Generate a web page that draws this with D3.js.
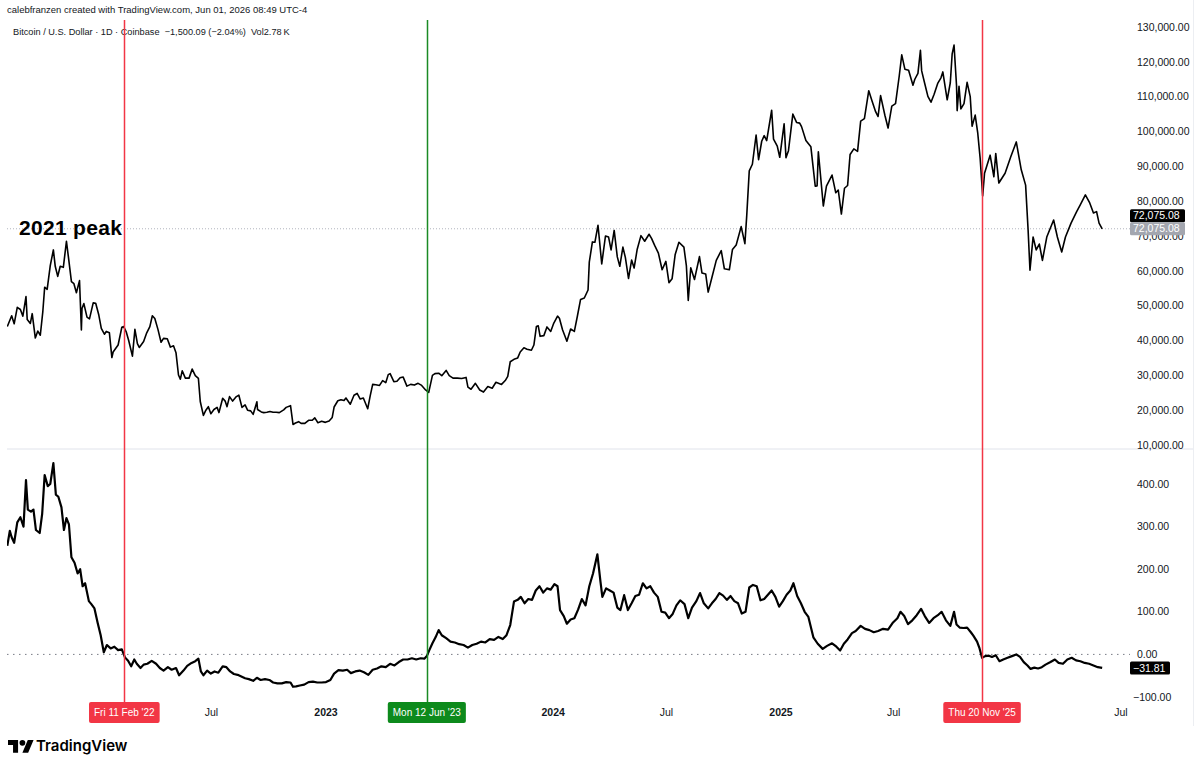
<!DOCTYPE html>
<html>
<head>
<meta charset="utf-8">
<script src="https://cdn.jsdelivr.net/npm/d3@7"></script>
<style>
  body { margin: 0; background: #fff; }
  svg { display: block; font-family: "Liberation Sans", Arial, sans-serif; }
</style>
</head>
<body>
<svg id="chart" width="1200" height="765"></svg>
<script>
//Data
// BTCUSD daily close, thousand USD (~weekly + spikes)
const btcPrice = [
  ["2021-08-07",44.0],["2021-08-14",47.1],["2021-08-18",44.8],["2021-08-23",49.5],["2021-08-28",48.9],
  ["2021-09-01",47.0],["2021-09-06",52.6],["2021-09-08",46.0],["2021-09-13",44.9],["2021-09-16",47.7],
  ["2021-09-21",40.7],["2021-09-25",42.7],["2021-09-29",41.5],["2021-10-03",48.2],["2021-10-06",55.3],
  ["2021-10-10",54.7],["2021-10-15",61.5],["2021-10-20",66.0],["2021-10-23",61.3],["2021-10-27",58.4],
  ["2021-10-31",61.3],["2021-11-05",61.0],["2021-11-10",68.5],["2021-11-13",64.2],["2021-11-18",56.9],
  ["2021-11-22",56.3],["2021-11-26",53.7],["2021-12-01",57.2],["2021-12-04",43.0],["2021-12-05",49.2],
  ["2021-12-08",50.6],["2021-12-13",46.7],["2021-12-17",46.2],["2021-12-23",50.8],["2021-12-27",50.7],
  ["2022-01-01",47.3],["2022-01-05",43.5],["2022-01-10",41.8],["2022-01-13",42.6],["2022-01-18",42.2],
  ["2022-01-22",35.1],["2022-01-24",36.7],["2022-01-28",37.7],["2022-02-01",38.7],["2022-02-07",43.8],
  ["2022-02-10",44.0],["2022-02-14",42.5],["2022-02-18",40.0],["2022-02-24",35.5],["2022-02-28",43.2],
  ["2022-03-04",39.1],["2022-03-07",38.0],["2022-03-14",39.7],["2022-03-19",42.2],["2022-03-24",44.0],
  ["2022-03-28",47.1],["2022-04-01",46.3],["2022-04-06",43.2],["2022-04-11",39.5],["2022-04-15",40.6],
  ["2022-04-21",40.5],["2022-04-26",38.1],["2022-05-01",38.5],["2022-05-05",36.5],["2022-05-09",30.1],
  ["2022-05-12",28.9],["2022-05-15",31.3],["2022-05-20",29.2],["2022-05-26",29.2],["2022-05-31",31.8],
  ["2022-06-05",29.9],["2022-06-10",29.1],["2022-06-13",22.5],["2022-06-18",18.5],["2022-06-22",20.0],
  ["2022-06-26",21.0],["2022-06-30",19.0],["2022-07-05",20.2],["2022-07-10",20.8],["2022-07-13",19.3],
  ["2022-07-19",23.4],["2022-07-23",22.6],["2022-07-26",21.0],["2022-07-30",23.9],["2022-08-04",22.6],
  ["2022-08-10",23.9],["2022-08-14",24.3],["2022-08-19",20.8],["2022-08-24",21.5],["2022-08-28",20.0],
  ["2022-09-02",19.8],["2022-09-06",18.8],["2022-09-12",22.4],["2022-09-13",20.2],["2022-09-19",19.5],
  ["2022-09-23",19.3],["2022-09-28",19.4],["2022-10-03",19.6],["2022-10-08",19.4],["2022-10-13",19.4],
  ["2022-10-18",19.3],["2022-10-25",20.1],["2022-10-29",20.8],["2022-11-05",21.3],["2022-11-09",15.9],
  ["2022-11-13",16.3],["2022-11-18",16.7],["2022-11-22",16.2],["2022-11-28",16.2],["2022-12-04",17.1],
  ["2022-12-10",17.1],["2022-12-14",17.8],["2022-12-19",16.4],["2022-12-25",16.8],["2022-12-31",16.5],
  ["2023-01-06",16.9],["2023-01-11",17.9],["2023-01-14",20.9],["2023-01-20",22.7],["2023-01-25",23.0],
  ["2023-01-30",22.8],["2023-02-02",23.5],["2023-02-09",21.7],["2023-02-15",24.3],["2023-02-20",24.8],
  ["2023-02-25",23.2],["2023-03-02",23.5],["2023-03-09",20.4],["2023-03-13",24.1],["2023-03-17",27.4],
  ["2023-03-22",27.3],["2023-03-28",27.1],["2023-04-02",28.5],["2023-04-07",27.9],["2023-04-11",30.2],
  ["2023-04-14",30.5],["2023-04-20",28.2],["2023-04-25",28.3],["2023-04-30",29.3],["2023-05-05",29.5],
  ["2023-05-11",26.9],["2023-05-17",27.4],["2023-05-23",27.2],["2023-05-29",27.7],["2023-06-03",27.2],
  ["2023-06-10",25.8],["2023-06-15",25.1],["2023-06-21",30.0],["2023-06-25",30.5],["2023-07-01",30.6],
  ["2023-07-06",29.9],["2023-07-13",31.4],["2023-07-18",29.9],["2023-07-24",29.2],["2023-07-31",29.2],
  ["2023-08-07",29.1],["2023-08-14",29.4],["2023-08-17",26.6],["2023-08-22",26.0],["2023-08-29",27.7],
  ["2023-09-05",25.8],["2023-09-11",25.2],["2023-09-18",26.8],["2023-09-25",26.3],["2023-10-01",28.0],
  ["2023-10-10",27.4],["2023-10-16",28.5],["2023-10-20",29.7],["2023-10-24",33.9],["2023-10-30",34.6],
  ["2023-11-05",35.0],["2023-11-09",36.7],["2023-11-15",37.9],["2023-11-20",37.5],["2023-11-27",37.2],
  ["2023-12-01",38.7],["2023-12-05",44.0],["2023-12-08",44.2],["2023-12-11",41.2],["2023-12-17",41.4],
  ["2023-12-22",43.9],["2023-12-28",42.6],["2024-01-02",45.0],["2024-01-08",47.0],["2024-01-11",46.4],
  ["2024-01-16",43.1],["2024-01-23",39.8],["2024-01-29",43.3],["2024-02-04",42.6],["2024-02-09",47.1],
  ["2024-02-14",51.8],["2024-02-20",52.2],["2024-02-26",54.5],["2024-02-28",62.5],["2024-03-04",68.3],
  ["2024-03-08",68.2],["2024-03-13",73.1],["2024-03-19",62.0],["2024-03-25",70.0],["2024-03-30",69.7],
  ["2024-04-03",66.0],["2024-04-08",71.6],["2024-04-13",64.0],["2024-04-17",61.3],["2024-04-22",66.8],
  ["2024-04-26",63.8],["2024-05-01",57.8],["2024-05-06",63.1],["2024-05-10",60.8],["2024-05-15",66.2],
  ["2024-05-21",70.1],["2024-05-27",68.5],["2024-06-03",70.5],["2024-06-07",69.3],["2024-06-12",67.3],
  ["2024-06-18",65.1],["2024-06-24",60.3],["2024-06-30",62.7],["2024-07-05",56.6],["2024-07-10",57.7],
  ["2024-07-15",64.7],["2024-07-21",68.2],["2024-07-29",66.8],["2024-08-02",61.4],["2024-08-05",51.5],
  ["2024-08-09",60.9],["2024-08-15",57.5],["2024-08-23",64.1],["2024-08-27",59.4],["2024-09-02",59.1],
  ["2024-09-06",53.9],["2024-09-12",58.1],["2024-09-19",63.0],["2024-09-27",65.8],["2024-10-02",60.6],
  ["2024-10-10",60.3],["2024-10-15",66.1],["2024-10-21",67.4],["2024-10-29",72.7],["2024-11-04",67.8],
  ["2024-11-07",76.0],["2024-11-11",88.7],["2024-11-16",90.6],["2024-11-22",99.0],["2024-11-26",91.9],
  ["2024-12-01",97.2],["2024-12-05",98.8],["2024-12-09",97.4],["2024-12-17",106.1],["2024-12-20",97.8],
  ["2024-12-26",95.8],["2024-12-30",92.6],["2025-01-06",102.2],["2025-01-09",92.5],["2025-01-13",94.5],
  ["2025-01-20",105.0],["2025-01-26",102.6],["2025-01-31",102.4],["2025-02-03",101.4],["2025-02-10",97.4],
  ["2025-02-18",95.6],["2025-02-25",84.3],["2025-02-28",84.4],["2025-03-02",94.2],["2025-03-10",78.6],
  ["2025-03-15",84.3],["2025-03-24",87.5],["2025-03-30",82.4],["2025-04-03",83.2],["2025-04-08",76.3],
  ["2025-04-13",83.7],["2025-04-18",84.5],["2025-04-22",93.4],["2025-04-28",95.0],["2025-05-04",94.3],
  ["2025-05-09",103.0],["2025-05-15",103.7],["2025-05-22",111.7],["2025-05-27",108.9],["2025-06-02",105.7],
  ["2025-06-06",104.3],["2025-06-10",110.3],["2025-06-17",104.6],["2025-06-22",101.0],["2025-06-28",107.3],
  ["2025-07-04",108.0],["2025-07-10",116.0],["2025-07-14",122.0],["2025-07-19",117.9],["2025-07-25",117.6],
  ["2025-08-01",113.3],["2025-08-04",115.0],["2025-08-09",116.7],["2025-08-13",123.3],["2025-08-15",117.4],
  ["2025-08-20",113.7],["2025-08-25",110.1],["2025-08-30",108.4],["2025-09-04",110.7],["2025-09-10",113.9],
  ["2025-09-15",115.4],["2025-09-18",117.1],["2025-09-25",109.1],["2025-09-30",114.0],["2025-10-03",122.3],
  ["2025-10-06",124.8],["2025-10-10",113.2],["2025-10-11",106.0],["2025-10-14",113.0],["2025-10-17",106.5],
  ["2025-10-22",108.0],["2025-10-27",114.1],["2025-11-01",110.0],["2025-11-04",101.5],["2025-11-09",104.7],
  ["2025-11-13",99.7],["2025-11-17",92.2],["2025-11-21",81.5],["2025-11-24",88.0],["2025-12-03",93.2],
  ["2025-12-09",87.0],["2025-12-12",93.7],["2025-12-17",85.2],["2025-12-27",88.0],["2026-01-05",92.7],
  ["2026-01-14",97.0],["2026-01-22",89.0],["2026-01-29",84.6],["2026-02-02",71.7],["2026-02-05",60.2],
  ["2026-02-10",69.7],["2026-02-15",66.0],["2026-02-20",67.7],["2026-02-25",63.0],["2026-03-04",69.7],
  ["2026-03-15",74.6],["2026-03-21",69.7],["2026-03-28",65.4],["2026-04-03",69.7],["2026-04-12",73.7],
  ["2026-04-21",77.0],["2026-04-27",79.0],["2026-05-05",81.8],["2026-05-12",79.5],["2026-05-18",76.6],
  ["2026-05-23",77.0],["2026-05-27",73.7],["2026-06-01",72.075]
];

// 365-day rate of change, percent
const roc365 = [
  ["2021-08-07",255],["2021-08-11",290],["2021-08-14",275],["2021-08-18",262],["2021-08-23",310],
  ["2021-08-28",322],["2021-09-02",300],["2021-09-06",409],["2021-09-09",340],["2021-09-14",335],
  ["2021-09-18",340],["2021-09-22",292],["2021-09-28",285],["2021-10-02",330],["2021-10-06",421],
  ["2021-10-11",395],["2021-10-15",400],["2021-10-20",449],["2021-10-24",375],["2021-10-28",370],
  ["2021-11-02",345],["2021-11-06",292],["2021-11-10",320],["2021-11-14",305],["2021-11-18",228],
  ["2021-11-23",215],["2021-11-28",190],["2021-12-02",200],["2021-12-06",160],["2021-12-10",167],
  ["2021-12-16",125],["2021-12-20",118],["2021-12-25",108],["2021-12-30",75],["2022-01-04",45],
  ["2022-01-09",5],["2022-01-14",22],["2022-01-20",14],["2022-01-26",18],["2022-02-01",10],
  ["2022-02-07",12],["2022-02-12",-7],["2022-02-17",-15],["2022-02-22",-28],["2022-02-27",-12],
  ["2022-03-03",-22],["2022-03-09",-32],["2022-03-14",-24],["2022-03-20",-22],["2022-03-27",-15],
  ["2022-04-03",-22],["2022-04-09",-32],["2022-04-15",-38],["2022-04-22",-30],["2022-04-28",-36],
  ["2022-05-05",-32],["2022-05-10",-49],["2022-05-17",-38],["2022-05-23",-27],["2022-05-30",-20],
  ["2022-06-05",-16],["2022-06-10",-10],["2022-06-14",-40],["2022-06-18",-49],["2022-06-24",-38],
  ["2022-06-30",-45],["2022-07-06",-40],["2022-07-12",-43],["2022-07-19",-28],["2022-07-25",-30],
  ["2022-07-31",-40],["2022-08-06",-46],["2022-08-12",-48],["2022-08-18",-52],["2022-08-24",-56],
  ["2022-08-30",-58],["2022-09-06",-62],["2022-09-12",-55],["2022-09-18",-60],["2022-09-25",-58],
  ["2022-10-02",-60],["2022-10-08",-66],["2022-10-15",-68],["2022-10-22",-68],["2022-10-29",-65],
  ["2022-11-05",-66],["2022-11-09",-76],["2022-11-14",-75],["2022-11-20",-73],["2022-11-27",-71],
  ["2022-12-04",-65],["2022-12-11",-64],["2022-12-18",-66],["2022-12-25",-66],["2023-01-01",-65],
  ["2023-01-08",-60],["2023-01-14",-45],["2023-01-21",-37],["2023-01-28",-38],["2023-02-04",-36],
  ["2023-02-10",-44],["2023-02-17",-40],["2023-02-24",-38],["2023-03-03",-42],["2023-03-10",-48],
  ["2023-03-17",-36],["2023-03-24",-33],["2023-03-31",-28],["2023-04-07",-30],["2023-04-14",-22],
  ["2023-04-21",-26],["2023-04-28",-18],["2023-05-05",-12],["2023-05-12",-12],["2023-05-19",-9],
  ["2023-05-26",-12],["2023-06-02",-9],["2023-06-08",-10],["2023-06-12",-4],["2023-06-16",10],
  ["2023-06-21",26],["2023-06-26",40],["2023-07-01",57],["2023-07-06",45],["2023-07-13",38],
  ["2023-07-20",30],["2023-07-27",28],["2023-08-03",24],["2023-08-10",22],["2023-08-17",16],
  ["2023-08-24",22],["2023-08-31",25],["2023-09-07",30],["2023-09-14",28],["2023-09-21",36],
  ["2023-09-28",34],["2023-10-05",41],["2023-10-12",36],["2023-10-18",45],["2023-10-24",69],
  ["2023-10-30",124],["2023-11-05",128],["2023-11-10",135],["2023-11-16",120],["2023-11-22",130],
  ["2023-11-28",128],["2023-12-04",150],["2023-12-10",160],["2023-12-16",145],["2023-12-22",155],
  ["2023-12-28",152],["2024-01-03",165],["2024-01-08",160],["2024-01-12",104],["2024-01-18",90],
  ["2024-01-23",72],["2024-01-29",82],["2024-02-04",85],["2024-02-10",105],["2024-02-16",130],
  ["2024-02-22",115],["2024-02-28",160],["2024-03-05",190],["2024-03-12",235],["2024-03-17",170],
  ["2024-03-20",135],["2024-03-26",155],["2024-04-01",150],["2024-04-07",145],["2024-04-13",110],
  ["2024-04-18",104],["2024-04-24",139],["2024-04-30",104],["2024-05-06",120],["2024-05-12",137],
  ["2024-05-18",140],["2024-05-24",167],["2024-05-30",155],["2024-06-05",160],["2024-06-11",145],
  ["2024-06-17",135],["2024-06-23",100],["2024-06-29",98],["2024-07-05",85],["2024-07-11",95],
  ["2024-07-17",115],["2024-07-23",127],["2024-07-30",118],["2024-08-05",85],["2024-08-11",110],
  ["2024-08-18",125],["2024-08-24",144],["2024-08-30",120],["2024-09-06",108],["2024-09-12",120],
  ["2024-09-18",130],["2024-09-24",144],["2024-09-30",138],["2024-10-06",128],["2024-10-12",137],
  ["2024-10-18",125],["2024-10-24",120],["2024-10-30",96],["2024-11-05",100],["2024-11-11",157],
  ["2024-11-17",163],["2024-11-23",160],["2024-11-29",127],["2024-12-05",130],["2024-12-11",140],
  ["2024-12-17",150],["2024-12-23",135],["2024-12-29",112],["2025-01-04",125],["2025-01-10",140],
  ["2025-01-16",150],["2025-01-21",167],["2025-01-27",137],["2025-02-02",120],["2025-02-08",100],
  ["2025-02-14",88],["2025-02-22",40],["2025-03-01",25],["2025-03-09",13],["2025-03-16",20],
  ["2025-03-24",26],["2025-03-31",18],["2025-04-06",9],["2025-04-12",25],["2025-04-18",35],
  ["2025-04-25",50],["2025-05-01",55],["2025-05-09",67],["2025-05-16",60],["2025-05-23",57],
  ["2025-05-30",52],["2025-06-06",55],["2025-06-14",60],["2025-06-22",58],["2025-06-30",75],
  ["2025-07-07",85],["2025-07-12",100],["2025-07-18",90],["2025-07-24",71],["2025-07-31",80],
  ["2025-08-07",92],["2025-08-14",107],["2025-08-20",90],["2025-08-27",74],["2025-09-03",85],
  ["2025-09-10",92],["2025-09-16",100],["2025-09-23",80],["2025-09-30",67],["2025-10-06",100],
  ["2025-10-10",70],["2025-10-15",63],["2025-10-21",62],["2025-10-27",63],["2025-11-02",52],
  ["2025-11-06",44],["2025-11-12",30],["2025-11-16",14],["2025-11-20",-8],["2025-11-25",-4],
  ["2025-12-01",-3],["2025-12-06",-6],["2025-12-12",-2],["2025-12-18",-16],["2025-12-24",-12],
  ["2025-12-31",-8],["2026-01-07",-4],["2026-01-14",0],["2026-01-20",-6],["2026-01-26",-18],
  ["2026-02-01",-26],["2026-02-06",-34],["2026-02-12",-31],["2026-02-18",-33],["2026-02-24",-30],
  ["2026-03-02",-24],["2026-03-10",-18],["2026-03-17",-12],["2026-03-23",-20],["2026-03-30",-22],
  ["2026-04-06",-12],["2026-04-13",-8],["2026-04-20",-14],["2026-04-27",-16],["2026-05-04",-20],
  ["2026-05-11",-22],["2026-05-18",-26],["2026-05-25",-30],["2026-06-01",-31.81]
];

const priceTicks = [10000, 20000, 30000, 40000, 50000, 60000, 70000, 80000, 90000, 100000, 110000, 120000, 130000];
const rocTicks = [-100, 0, 100, 200, 300, 400];
const timeTicks = [
  ["2022-07-01", "Jul", false], ["2023-01-01", "2023", true],
  ["2024-01-01", "2024", true], ["2024-07-01", "Jul", false], ["2025-01-01", "2025", true],
  ["2025-07-01", "Jul", false], ["2026-07-01", "Jul", false]
];
const markers = [
  ["2022-02-11", "Fri 11 Feb '22", "#f23645", "#f23645"],
  ["2023-06-12", "Mon 12 Jun '23", "#1b8a24", "#0d8a1c"],
  ["2025-11-20", "Thu 20 Nov '25", "#f23645", "#f23645"]
];
const lastPrice = 72075.08;
const lastRoc = -31.81;

//Layout
const PL = 7, PR = 1130, AXR = 1193;
const TOP = 20, DIV = 449, BOT = 703;
const TXT = '#131722';

const svg = d3.select('#chart');
const parse = s => new Date(s + 'T00:00:00Z');

const x = d3.scaleUtc()
  .domain([parse('2023-01-01'), parse('2025-01-01')])
  .range([326, 781]);
const yP = d3.scaleLinear().domain([10000, 130000]).range([445, 27]);
const yR = d3.scaleLinear().domain([-100, 400]).range([697, 484]);

const fmt = d3.format(',.2f');
const minus = s => s.replace('-', '\u2212');

// frame lines
svg.append('line').attr('x1', PL).attr('x2', AXR).attr('y1', DIV).attr('y2', DIV)
  .attr('stroke', '#e0e3eb').attr('stroke-width', 1);
svg.append('line').attr('x1', AXR + 0.5).attr('x2', AXR + 0.5).attr('y1', 0).attr('y2', 726)
  .attr('stroke', '#eceef2').attr('stroke-width', 1);

// clip
const defs = svg.append('defs');
defs.append('clipPath').attr('id', 'clip-top').append('rect')
  .attr('x', PL).attr('y', TOP).attr('width', PR - PL).attr('height', DIV - TOP);
defs.append('clipPath').attr('id', 'clip-bot').append('rect')
  .attr('x', PL).attr('y', DIV).attr('width', PR - PL).attr('height', BOT - DIV);

// reference lines
svg.append('line').attr('x1', PL).attr('x2', PR).attr('y1', yP(lastPrice)).attr('y2', yP(lastPrice))
  .attr('stroke', '#b2b5be').attr('stroke-width', 1).attr('stroke-dasharray', '1,2');
svg.append('line').attr('x1', PL).attr('x2', PR).attr('y1', yR(0)).attr('y2', yR(0))
  .attr('stroke', '#787b86').attr('stroke-width', 1).attr('stroke-dasharray', '1.5,4.5');

// series
const priceLine = d3.line().x(d => x(parse(d[0]))).y(d => yP(d[1] * 1000));
const rocLine = d3.line().x(d => x(parse(d[0]))).y(d => yR(d[1]));

svg.append('path').datum(btcPrice)
  .attr('clip-path', 'url(#clip-top)')
  .attr('d', priceLine).attr('fill', 'none')
  .attr('stroke', '#000').attr('stroke-width', 1.6).attr('stroke-linejoin', 'round');

svg.append('path').datum(roc365)
  .attr('clip-path', 'url(#clip-bot)')
  .attr('d', rocLine).attr('fill', 'none')
  .attr('stroke', '#000').attr('stroke-width', 2.2).attr('stroke-linejoin', 'round');

// legend + header
svg.append('text').attr('x', 7).attr('y', 13)
  .attr('font-size', 9.5).attr('fill', TXT)
  .text('calebfranzen created with TradingView.com, Jun 01, 2026 08:49 UTC-4');
svg.append('text').attr('x', 13).attr('y', 35)
  .attr('font-size', 9.2).attr('fill', TXT)
  .attr('xml:space', 'preserve')
  .text('Bitcoin / U.S. Dollar \u00b7 1D \u00b7 Coinbase  \u22121,500.09 (\u22122.04%)  Vol2.78\u2009K');

svg.append('text').attr('x', 19).attr('y', 235)
  .attr('font-size', 21).attr('font-weight', 700).attr('fill', '#000')
  .attr('letter-spacing', 0.3)
  .text('2021 peak');

// vertical markers
markers.forEach(([d, label, lineC]) => {
  svg.append('line')
    .attr('x1', Math.round(x(parse(d))) + 0.5).attr('x2', Math.round(x(parse(d))) + 0.5)
    .attr('y1', TOP).attr('y2', BOT)
    .attr('stroke', lineC).attr('stroke-width', 1.5);
});

// right price scale
svg.append('g').selectAll('text').data(priceTicks).join('text')
  .attr('x', 1137).attr('y', d => yP(d)).attr('dy', '0.35em')
  .attr('font-size', 10.5).attr('fill', TXT)
  .text(d => fmt(d));

svg.append('g').selectAll('text').data(rocTicks).join('text')
  .attr('x', d => d < 0 ? 1133 : 1137).attr('y', d => yR(d)).attr('dy', '0.35em')
  .attr('font-size', 10.5).attr('fill', TXT)
  .text(d => minus(fmt(d)));

// last value labels
const tag = (yc, txt, bg, fg, w) => {
  svg.append('rect').attr('x', 1130).attr('y', yc - 6.5).attr('width', w).attr('height', 13)
    .attr('rx', 1.5).attr('fill', bg);
  svg.append('text').attr('x', 1133).attr('y', yc).attr('dy', '0.35em')
    .attr('font-size', 10.5).attr('fill', fg).text(txt);
};
tag(yP(lastPrice) - 13, fmt(lastPrice), '#000', '#fff', 55);
tag(yP(lastPrice), fmt(lastPrice), '#a3a6af', '#fff', 55);
tag(yR(lastRoc), minus(fmt(lastRoc)), '#000', '#fff', 40);

// time axis
svg.append('g').selectAll('text').data(timeTicks).join('text')
  .attr('x', d => x(parse(d[0]))).attr('y', 712).attr('dy', '0.35em')
  .attr('text-anchor', 'middle').attr('font-size', 10.5)
  .attr('font-weight', d => d[2] ? 700 : 400).attr('fill', TXT)
  .text(d => d[1]);

markers.forEach(([d, label, lineC, boxC]) => {
  const cx = x(parse(d));
  const t = svg.append('text').attr('x', cx).attr('y', 712).attr('dy', '0.35em')
    .attr('text-anchor', 'middle').attr('font-size', 10).attr('fill', '#fff').text(label);
  const w = t.node().getComputedTextLength() + 10;
  svg.insert('rect', () => t.node())
    .attr('x', cx - w / 2).attr('y', 702).attr('width', w).attr('height', 21)
    .attr('rx', 2).attr('fill', boxC);
});

// TradingView logo
const logo = svg.append('g').attr('transform', 'translate(8,737) scale(0.72)');
logo.append('path').attr('d', 'M14 22H7V11H0V4h14v18zM28 22h-8l7.5-18h8L28 22z').attr('fill', '#000');
logo.append('circle').attr('cx', 20).attr('cy', 8).attr('r', 4).attr('fill', '#000');
svg.append('text').attr('x', 36).attr('y', 751)
  .attr('font-family', 'Inter, sans-serif').attr('font-size', 15).attr('font-weight', 600)
  .attr('fill', '#000').text('TradingView');
</script>
</body>
</html>
